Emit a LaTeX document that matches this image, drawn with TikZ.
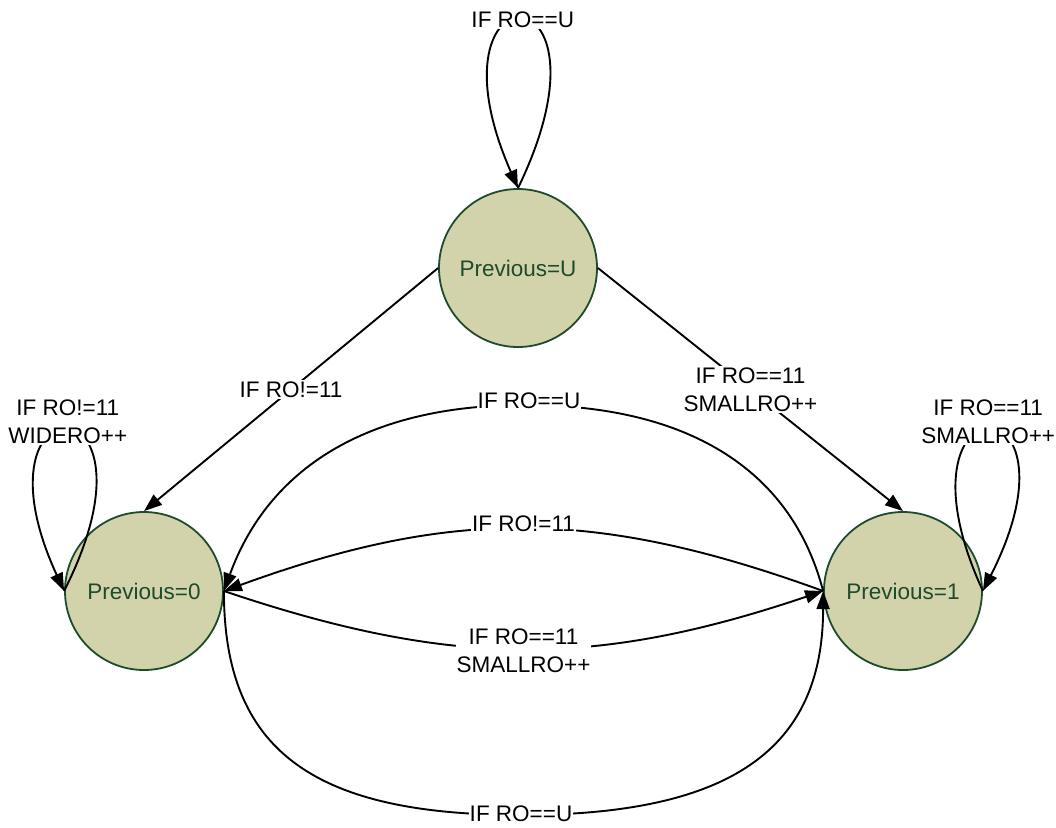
\documentclass[tikz,border=0pt]{standalone}
\usepackage{fontspec}
\setmainfont{Liberation Sans}
\usetikzlibrary{arrows.meta}
\definecolor{nodefill}{HTML}{D2D3AB}
\definecolor{nodeline}{HTML}{1F4A2C}
\begin{document}
\begin{tikzpicture}[x=1pt,y=-1pt,
  state/.style={circle,draw=nodeline,line width=1.8pt,fill=nodefill,text=nodeline,
    minimum size=158pt,inner sep=0pt,font=\fontsize{22.5}{27}\selectfont},
  edge/.style={draw=black,line width=1.9pt,-{Triangle[length=18pt,width=13pt]}},
  lbl/.style={fill=white,inner xsep=1pt,inner ysep=1.5pt,align=center,
    font=\fontsize{22.5}{27.5}\selectfont}]
\useasboundingbox (0,0) rectangle (1056,827);
\node[state] (nU) at (518,268) {Previous=U};
\node[state] (n0) at (144,591) {Previous=0};
\node[state] (n1) at (903,591) {Previous=1};
\coordinate (topc) at (525,405);
\coordinate (botc) at (521,815);
% self loops
\draw[edge] (nU.north) .. controls +(109,-225) and +(-99,-225) .. node[lbl,xshift=1pt]{IF RO==U} (nU.north);
\draw[edge] (n0.west) .. controls +(109,-215) and +(-99,-215) .. node[lbl,yshift=8pt]{IF RO!=11\\WIDERO++} (n0.west);
\draw[edge] (n1.east) .. controls +(-99,-215) and +(109,-215) .. node[lbl,xshift=1.5pt,yshift=8pt]{IF RO==11\\SMALLRO++} (n1.east);
% straight edges
\draw[edge] (nU.west) -- node[lbl]{IF RO!=11} (n0.north);
\draw[edge] (nU.east) -- node[lbl]{IF RO==11\\SMALLRO++} (n1.north);
% big arcs
\draw[edge] (n1.west) .. controls +(-30,-116) and +(170,0) .. (topc) node[lbl,xshift=4pt,yshift=4pt]{IF RO==U}
  .. controls +(-170,0) and +(41,-113) .. (n0.east);
\draw[edge] (n0.east) .. controls +(0,158) and +(-210,0) .. (botc) node[lbl,yshift=1pt]{IF RO==U}
  .. controls +(210,0) and +(0,158) .. (n1.west);
% middle arcs
\draw[edge] (n1.west) .. controls +(-228,-83) and +(228,-83) .. node[lbl,yshift=5pt]{IF RO!=11} (n0.east);
\draw[edge] (n0.east) .. controls +(228,77) and +(-228,77) .. node[lbl,yshift=-2pt]{IF RO==11\\SMALLRO++} (n1.west);
\end{tikzpicture}
\end{document}
